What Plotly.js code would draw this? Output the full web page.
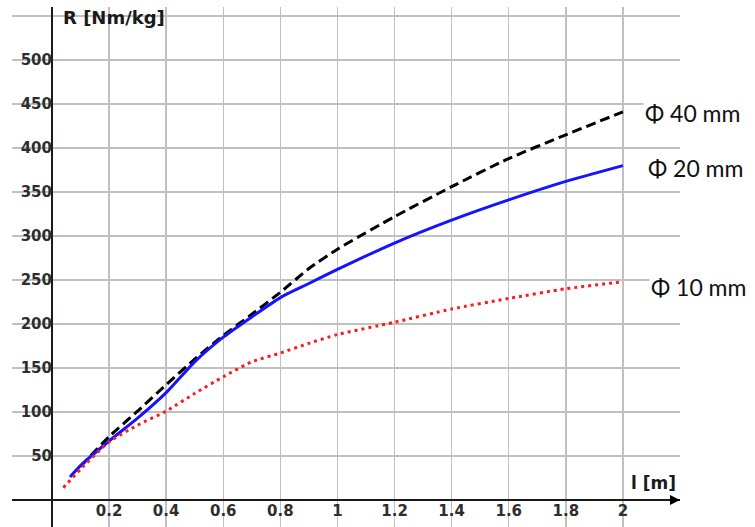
<!DOCTYPE html>
<html>
<head>
<meta charset="utf-8">
<script src="https://cdn.plot.ly/plotly-3.0.1.min.js"></script>
<style>
  html, body { margin: 0; padding: 0; background: #ffffff; }
  #chart { width: 755px; height: 527px; }
</style>
</head>
<body>
<div id="chart"></div>
<script>
// ---- data ----
const x40 = [0.1, 0.2, 0.3, 0.4, 0.5, 0.6, 0.7, 0.8, 0.9, 1.0, 1.2, 1.4, 1.6, 1.8, 2.0];
const r40 = [38, 72, 101, 131, 160, 187, 211, 236, 263, 285, 322, 356, 388, 415, 441];

const x20 = [0.063, 0.1, 0.2, 0.3, 0.4, 0.5, 0.6, 0.7, 0.8, 0.9, 1.0, 1.2, 1.4, 1.6, 1.8, 2.0];
const r20 = [26, 39, 67, 93, 122, 157, 185, 208, 230, 246, 262, 292, 318, 341, 362, 380];

const x10 = [0.04, 0.1, 0.2, 0.3, 0.4, 0.5, 0.6, 0.7, 0.8, 0.9, 1.0, 1.2, 1.4, 1.6, 1.8, 2.0];
const r10 = [14, 35, 66, 85, 101, 121, 140, 157, 167, 178, 188, 202, 217, 229, 240, 248];

const seriesNames = ["Φ 40 mm", "Φ 20 mm", "Φ 10 mm"];

const xTickVals = [0.2, 0.4, 0.6, 0.8, 1.0, 1.2, 1.4, 1.6, 1.8, 2.0];
const xTickText = ["0.2", "0.4", "0.6", "0.8", "1", "1.2", "1.4", "1.6", "1.8", "2"];
const yTickVals = [50, 100, 150, 200, 250, 300, 350, 400, 450, 500, 550];
const yTickText = ["50", "100", "150", "200", "250", "300", "350", "400", "450", "500", ""];

const xTitle = "l [m]";
const yTitle = "R [Nm/kg]";

// ---- plot ----
const gridColor = "#c0c0c0";
const tickFont = { family: "DejaVu Sans", size: 15, color: "#2e2e2e", weight: "bold" };

const traces = [
  { x: x40, y: r40, name: seriesNames[0], mode: "lines",
    line: { color: "#000000", width: 3, dash: "10px,5px", shape: "spline", smoothing: 0.6 } },
  { x: x20, y: r20, name: seriesNames[1], mode: "lines",
    line: { color: "#1414ff", width: 3, shape: "spline", smoothing: 0.6 } },
  { x: x10, y: r10, name: seriesNames[2], mode: "lines",
    line: { color: "#ff1a1a", width: 3, dash: "3px,4px", shape: "spline", smoothing: 0.6 } }
];

const labelFont = { family: "Lato", size: 23, color: "#111111" };

const layout = {
  width: 755, height: 527,
  margin: { l: 12, r: 75, t: 7, b: 0 },
  paper_bgcolor: "#ffffff", plot_bgcolor: "#ffffff",
  showlegend: false,
  xaxis: {
    range: [-0.14, 2.2],
    anchor: "free", position: 0.0519,
    tickmode: "array", tickvals: xTickVals, ticktext: xTickText,
    showgrid: true, gridcolor: gridColor, gridwidth: 1.5,
    zeroline: true, zerolinecolor: "#1a1a1a", zerolinewidth: 2,
    showline: false, ticks: "", tickfont: tickFont
  },
  yaxis: {
    range: [-30.7, 560.2],
    anchor: "free", position: 0.0599,
    tickmode: "array", tickvals: yTickVals, ticktext: yTickText,
    showgrid: true, gridcolor: gridColor, gridwidth: 1.5,
    zeroline: true, zerolinecolor: "#1a1a1a", zerolinewidth: 2,
    showline: false, ticks: "", tickfont: tickFont
  },
  annotations: [
    // axis arrows
    { x: 2.2, y: 0, xref: "x", yref: "y", ax: -12, ay: 0, axref: "pixel", ayref: "pixel",
      text: "", showarrow: true, arrowhead: 2, arrowsize: 1, arrowwidth: 2, arrowcolor: "#000" },
    { x: 0, y: 561, xref: "x", yref: "y", ax: 0, ay: 12, axref: "pixel", ayref: "pixel",
      text: "", showarrow: true, arrowhead: 2, arrowsize: 1, arrowwidth: 2, arrowcolor: "#000" },
    // axis titles
    { x: 0.032, y: 548, xref: "x", yref: "y", xanchor: "left", yanchor: "middle",
      text: yTitle, showarrow: false,
      font: { family: "DejaVu Sans", size: 18, color: "#1a1a1a", weight: "bold" } },
    { x: 2.108, y: 19.5, xref: "x", yref: "y", xanchor: "center", yanchor: "middle",
      text: xTitle, showarrow: false,
      font: { family: "DejaVu Sans", size: 17, color: "#1a1a1a", weight: "bold" } },
    // series labels
    { x: 2.07, y: 440, xref: "x", yref: "y", xanchor: "left", yanchor: "middle",
      text: seriesNames[0], showarrow: false, bgcolor: "#ffffff", borderpad: 1, font: labelFont },
    { x: 2.08, y: 377, xref: "x", yref: "y", xanchor: "left", yanchor: "middle",
      text: seriesNames[1], showarrow: false, bgcolor: "#ffffff", borderpad: 1, font: labelFont },
    { x: 2.09, y: 242, xref: "x", yref: "y", xanchor: "left", yanchor: "middle",
      text: seriesNames[2], showarrow: false, bgcolor: "#ffffff", borderpad: 1, font: labelFont }
  ]
};

Plotly.newPlot("chart", traces, layout, { displayModeBar: false, staticPlot: true });
</script>
</body>
</html>
